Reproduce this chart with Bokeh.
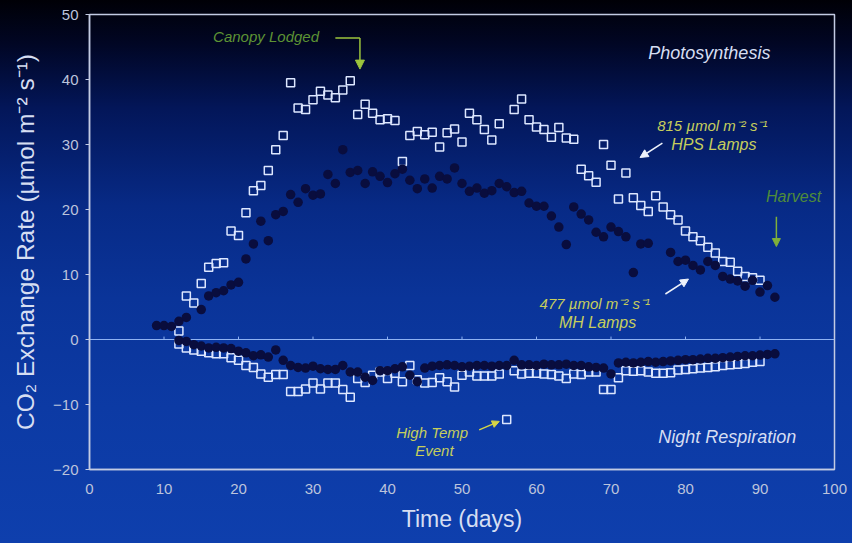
from bokeh.plotting import figure
from bokeh.models import Range1d, Arrow, NormalHead, Label, FixedTicker, ColumnDataSource
from bokeh.embed import file_html
from bokeh.resources import INLINE

# ---------------- data ----------------
x_ticks = [0, 10, 20, 30, 40, 50, 60, 70, 80, 90, 100]
y_ticks = [-20, -10, 0, 10, 20, 30, 40, 50]

# 815 umol HPS lamps (open squares) - photosynthesis (day)
hps_day_days = [12, 13, 14, 15, 16, 17, 18, 19, 20, 21, 22, 23, 24, 25, 26, 27, 28, 29, 30,
                31, 32, 33, 34, 35, 36, 37, 38, 39, 40, 41, 42, 43, 44, 45, 46, 47, 48, 49,
                50, 51, 52, 53, 54, 55, 57, 58, 59, 60, 61, 62, 63, 64, 65, 66, 67, 68, 69,
                70, 71, 72, 73, 74, 75, 76, 77, 78, 79, 80, 81, 82, 83, 84, 85, 86, 87, 88,
                89, 90]
hps_day_vals = [1.3, 6.7, 5.6, 8.6, 11.1, 11.7, 11.8, 16.7, 16.0, 19.5, 22.9, 23.7, 26.0,
                29.2, 31.4, 39.5, 35.6, 35.4, 36.9, 38.2, 37.6, 37.2, 38.4, 39.8, 34.6, 36.2,
                34.8, 33.8, 33.95, 33.7, 27.4, 31.4, 32.0, 31.5, 31.9, 29.6, 31.8, 32.4, 30.4,
                34.8, 33.8, 32.3, 30.7, 33.2, 35.4, 37.0, 33.8, 32.7, 32.3, 31.1, 32.6, 31.0,
                30.8, 26.2, 25.2, 24.2, 30.0, 26.8, 21.6, 25.6, 21.8, 20.6, 19.7, 22.1, 20.4,
                19.2, 18.4, 16.7, 15.8, 15.2, 14.2, 13.3, 12.0, 11.9, 10.5, 9.7, 9.5, 9.1]

# 477 umol MH lamps (filled circles) - photosynthesis (day)
mh_day_days = [9, 10, 11, 12, 13, 15, 16, 17, 18, 19, 20, 21, 22, 23, 24, 25, 26, 27, 28,
               29, 30, 31, 32, 33, 34, 35, 36, 37, 38, 39, 40, 41, 42, 43, 44, 45, 46, 47,
               48, 49, 50, 51, 52, 53, 54, 55, 56, 57, 58, 59, 60, 61, 62, 63, 64, 65, 66,
               67, 68, 69, 70, 71, 72, 73, 74, 75, 78, 79, 80, 81, 82, 83, 84, 85, 86, 87,
               88, 89, 90, 91, 92]
mh_day_vals = [2.15, 2.15, 2.0, 2.8, 3.4, 4.6, 6.7, 7.2, 7.5, 8.4, 8.8, 12.4, 14.7, 18.2,
               15.2, 19.2, 19.7, 22.3, 21.1, 23.2, 22.2, 22.4, 25.4, 24.0, 29.2, 25.7, 26.0,
               24.0, 25.8, 25.1, 24.15, 25.5, 26.2, 24.5, 23.2, 24.7, 23.3, 25.1, 24.7, 26.4,
               24.0, 22.8, 23.3, 22.5, 22.9, 24.0, 23.5, 22.6, 22.8, 21.0, 20.5, 20.5, 19.0,
               17.3, 14.6, 20.4, 19.3, 18.4, 16.5, 15.8, 17.3, 16.6, 15.8, 10.3, 14.7, 14.8,
               13.4, 12.0, 12.2, 11.4, 10.7, 12.0, 11.4, 9.7, 9.3, 9.0, 8.2, 9.1, 7.3, 8.3, 6.5]

# 815 umol HPS lamps - night respiration
hps_night_days = list(range(12, 91))
hps_night_vals = [-0.7, -1.3, -1.6, -1.8, -2.05, -2.2, -2.2, -2.8, -3.2, -4.0, -4.3, -5.3,
                  -5.8, -5.4, -5.4, -8.0, -8.0, -7.6, -6.7, -7.6, -6.7, -6.7, -7.7, -8.9,
                  -6.0, -6.6, -5.5, -5.0, -6.0, -5.2, -6.5, -4.0, -6.2, -6.7, -6.6, -5.9,
                  -6.5, -7.3, -5.5, -5.0, -5.6, -5.6, -5.6, -5.3, -12.3, -4.8, -5.3, -5.2,
                  -5.2, -5.3, -5.4, -5.6, -6.0, -5.3, -5.4, -5.0, -5.0, -7.7, -7.7, -5.9,
                  -4.8, -4.9, -4.8, -5.0, -5.2, -5.2, -5.1, -4.7, -4.6, -4.5, -4.4, -4.3,
                  -4.2, -4.0, -3.9, -3.8, -3.7, -3.5, -3.4]

# 477 umol MH lamps - night respiration
mh_night_days = list(range(12, 93))
mh_night_vals = [-0.15, -0.3, -0.8, -1.0, -1.3, -1.2, -1.3, -1.4, -1.8, -2.05, -2.5, -2.35,
                 -2.7, -1.6, -3.2, -4.0, -4.3, -4.4, -4.1, -4.5, -4.6, -4.6, -4.0, -5.0,
                 -5.0, -5.8, -6.3, -4.8, -4.8, -4.5, -4.2, -5.5, -6.5, -4.4, -4.1, -4.0,
                 -3.9, -4.0, -4.2, -4.1, -4.0, -4.0, -4.1, -4.0, -4.0, -3.2, -3.9, -3.9,
                 -4.0, -3.8, -3.9, -3.9, -3.8, -4.0, -4.0, -4.2, -4.3, -4.4, -5.3, -3.6,
                 -3.5, -3.6, -3.5, -3.4, -3.5, -3.4, -3.3, -3.2, -3.1, -3.1, -3.0, -2.9,
                 -2.9, -2.8, -2.7, -2.6, -2.5, -2.5, -2.4, -2.3, -2.2]

FONT = "Liberation Sans"
LIGHT = "#d6def2"
AXIS = "#c3cbe3"

p = figure(width=852, height=543, x_range=Range1d(0, 100), y_range=Range1d(-20, 50),
           output_backend="svg", toolbar_location=None,
           min_border_left=89, min_border_right=18, min_border_top=14, min_border_bottom=74)

p.styles = {"background": "linear-gradient(to bottom, #000006 0%, #010624 8%, #031659 20%, "
                          "#072a86 38%, #0a3499 55%, #0c3aa4 75%, #0e3fad 100%)"}
p.background_fill_alpha = 0
p.border_fill_alpha = 0
p.outline_line_color = AXIS
p.outline_line_width = 1.5
p.grid.visible = False

for ax in (p.xaxis[0], p.yaxis[0]):
    ax.axis_line_color = AXIS
    ax.axis_line_width = 1.5
    ax.major_tick_line_color = AXIS
    ax.minor_tick_line_color = None
    ax.major_label_text_color = "#bcc4dc"
    ax.major_label_text_font = FONT
    ax.major_label_text_font_size = "15px"
    ax.axis_label_text_color = LIGHT
    ax.axis_label_text_font = FONT
    ax.axis_label_text_font_style = "normal"

p.xaxis.ticker = FixedTicker(ticks=x_ticks)
p.yaxis.ticker = FixedTicker(ticks=y_ticks)
p.xaxis.major_tick_out = 0
p.xaxis.major_tick_in = 0
p.xaxis.major_label_standoff = 14
p.xaxis.axis_label = "Time (days)"
p.xaxis.axis_label_text_font_size = "23px"
p.xaxis.axis_label_standoff = 9

p.yaxis.major_tick_out = 4
p.yaxis.major_tick_in = 0
p.yaxis.major_label_standoff = 7
p.yaxis.axis_label = "CO\u2082 Exchange Rate (\u00b5mol m\u207b\u00b2 s\u207b\u00b9)"
p.yaxis.axis_label_text_font_size = "24.5px"
p.yaxis.axis_label_standoff = 11

# zero line with small tick marks
p.line(x=[x_ticks[0], x_ticks[-1]], y=[0, 0], line_color="#8fb2f2", line_width=1.2)
zt = x_ticks[1:-1]
p.segment(x0=zt, y0=[0] * len(zt), x1=zt, y1=[0.45] * len(zt), line_color="#8fb2f2", line_width=1)

# data
sq_src = ColumnDataSource(dict(x=hps_day_days + hps_night_days, y=hps_day_vals + hps_night_vals))
p.scatter("x", "y", source=sq_src, marker="square", size=8, fill_color=None,
          line_color="#dde7ff", line_width=1.5)
dot_src = ColumnDataSource(dict(x=mh_day_days + mh_night_days, y=mh_day_vals + mh_night_vals))
p.scatter("x", "y", source=dot_src, marker="circle", size=9.5, fill_color="#090d3e",
          line_color=None)

# annotations
def lab(x, y, text, color, size, style="italic"):
    p.add_layout(Label(x=x, y=y, text=text, text_color=color, text_font=FONT,
                       text_font_size=size, text_font_style=style, text_align="center",
                       text_baseline="middle"))

GREEN_TXT = "#5d9334"
YEL_TXT = "#c6ce5c"

lab(23.7, 46.6, "Canopy Lodged", GREEN_TXT, "15px")
p.line(x=[33.0, 36.3], y=[46.4, 46.4], line_color="#9cc43c", line_width=1.5)
p.add_layout(Arrow(x_start=36.3, y_start=46.4, x_end=36.3, y_end=41.6,
                   line_color="#9cc43c", line_width=1.5,
                   end=NormalHead(size=9, fill_color="#9cc43c", line_color="#9cc43c")))

lab(83.2, 44.1, "Photosynthesis", LIGHT, "18px")
lab(85.6, -15.0, "Night Respiration", LIGHT, "18px")

lab(83.6, 32.9, "815 \u00b5mol m\u207b\u00b2 s\u207b\u00b9", YEL_TXT, "15px")
lab(83.8, 30.0, "HPS Lamps", YEL_TXT, "16px")
p.add_layout(Arrow(x_start=76.9, y_start=30.2, x_end=73.9, y_end=28.0,
                   line_color="#eef2fa", line_width=1.5,
                   end=NormalHead(size=8, fill_color="#eef2fa", line_color="#eef2fa")))

lab(68.1, 5.5, "477  \u00b5mol m\u207b\u00b2 s\u207b\u00b9", YEL_TXT, "15px")
lab(68.2, 2.6, "MH Lamps", YEL_TXT, "16px")
p.add_layout(Arrow(x_start=77.3, y_start=7.0, x_end=80.4, y_end=9.3,
                   line_color="#eef2fa", line_width=1.5,
                   end=NormalHead(size=8, fill_color="#eef2fa", line_color="#eef2fa")))

lab(94.5, 22.0, "Harvest", "#4f8c3a", "16px")
p.add_layout(Arrow(x_start=92.2, y_start=18.9, x_end=92.2, y_end=14.3,
                   line_color="#7fb03a", line_width=1.5,
                   end=NormalHead(size=8, fill_color="#7fb03a", line_color="#7fb03a")))

lab(46.0, -14.3, "High Temp", YEL_TXT, "15px")
lab(46.3, -17.0, "Event", YEL_TXT, "15px")
p.add_layout(Arrow(x_start=52.3, y_start=-13.9, x_end=55.0, y_end=-12.6,
                   line_color="#d6d646", line_width=1.5,
                   end=NormalHead(size=7, fill_color="#d6d646", line_color="#d6d646")))

open("out.html", "w").write(file_html(p, INLINE))
